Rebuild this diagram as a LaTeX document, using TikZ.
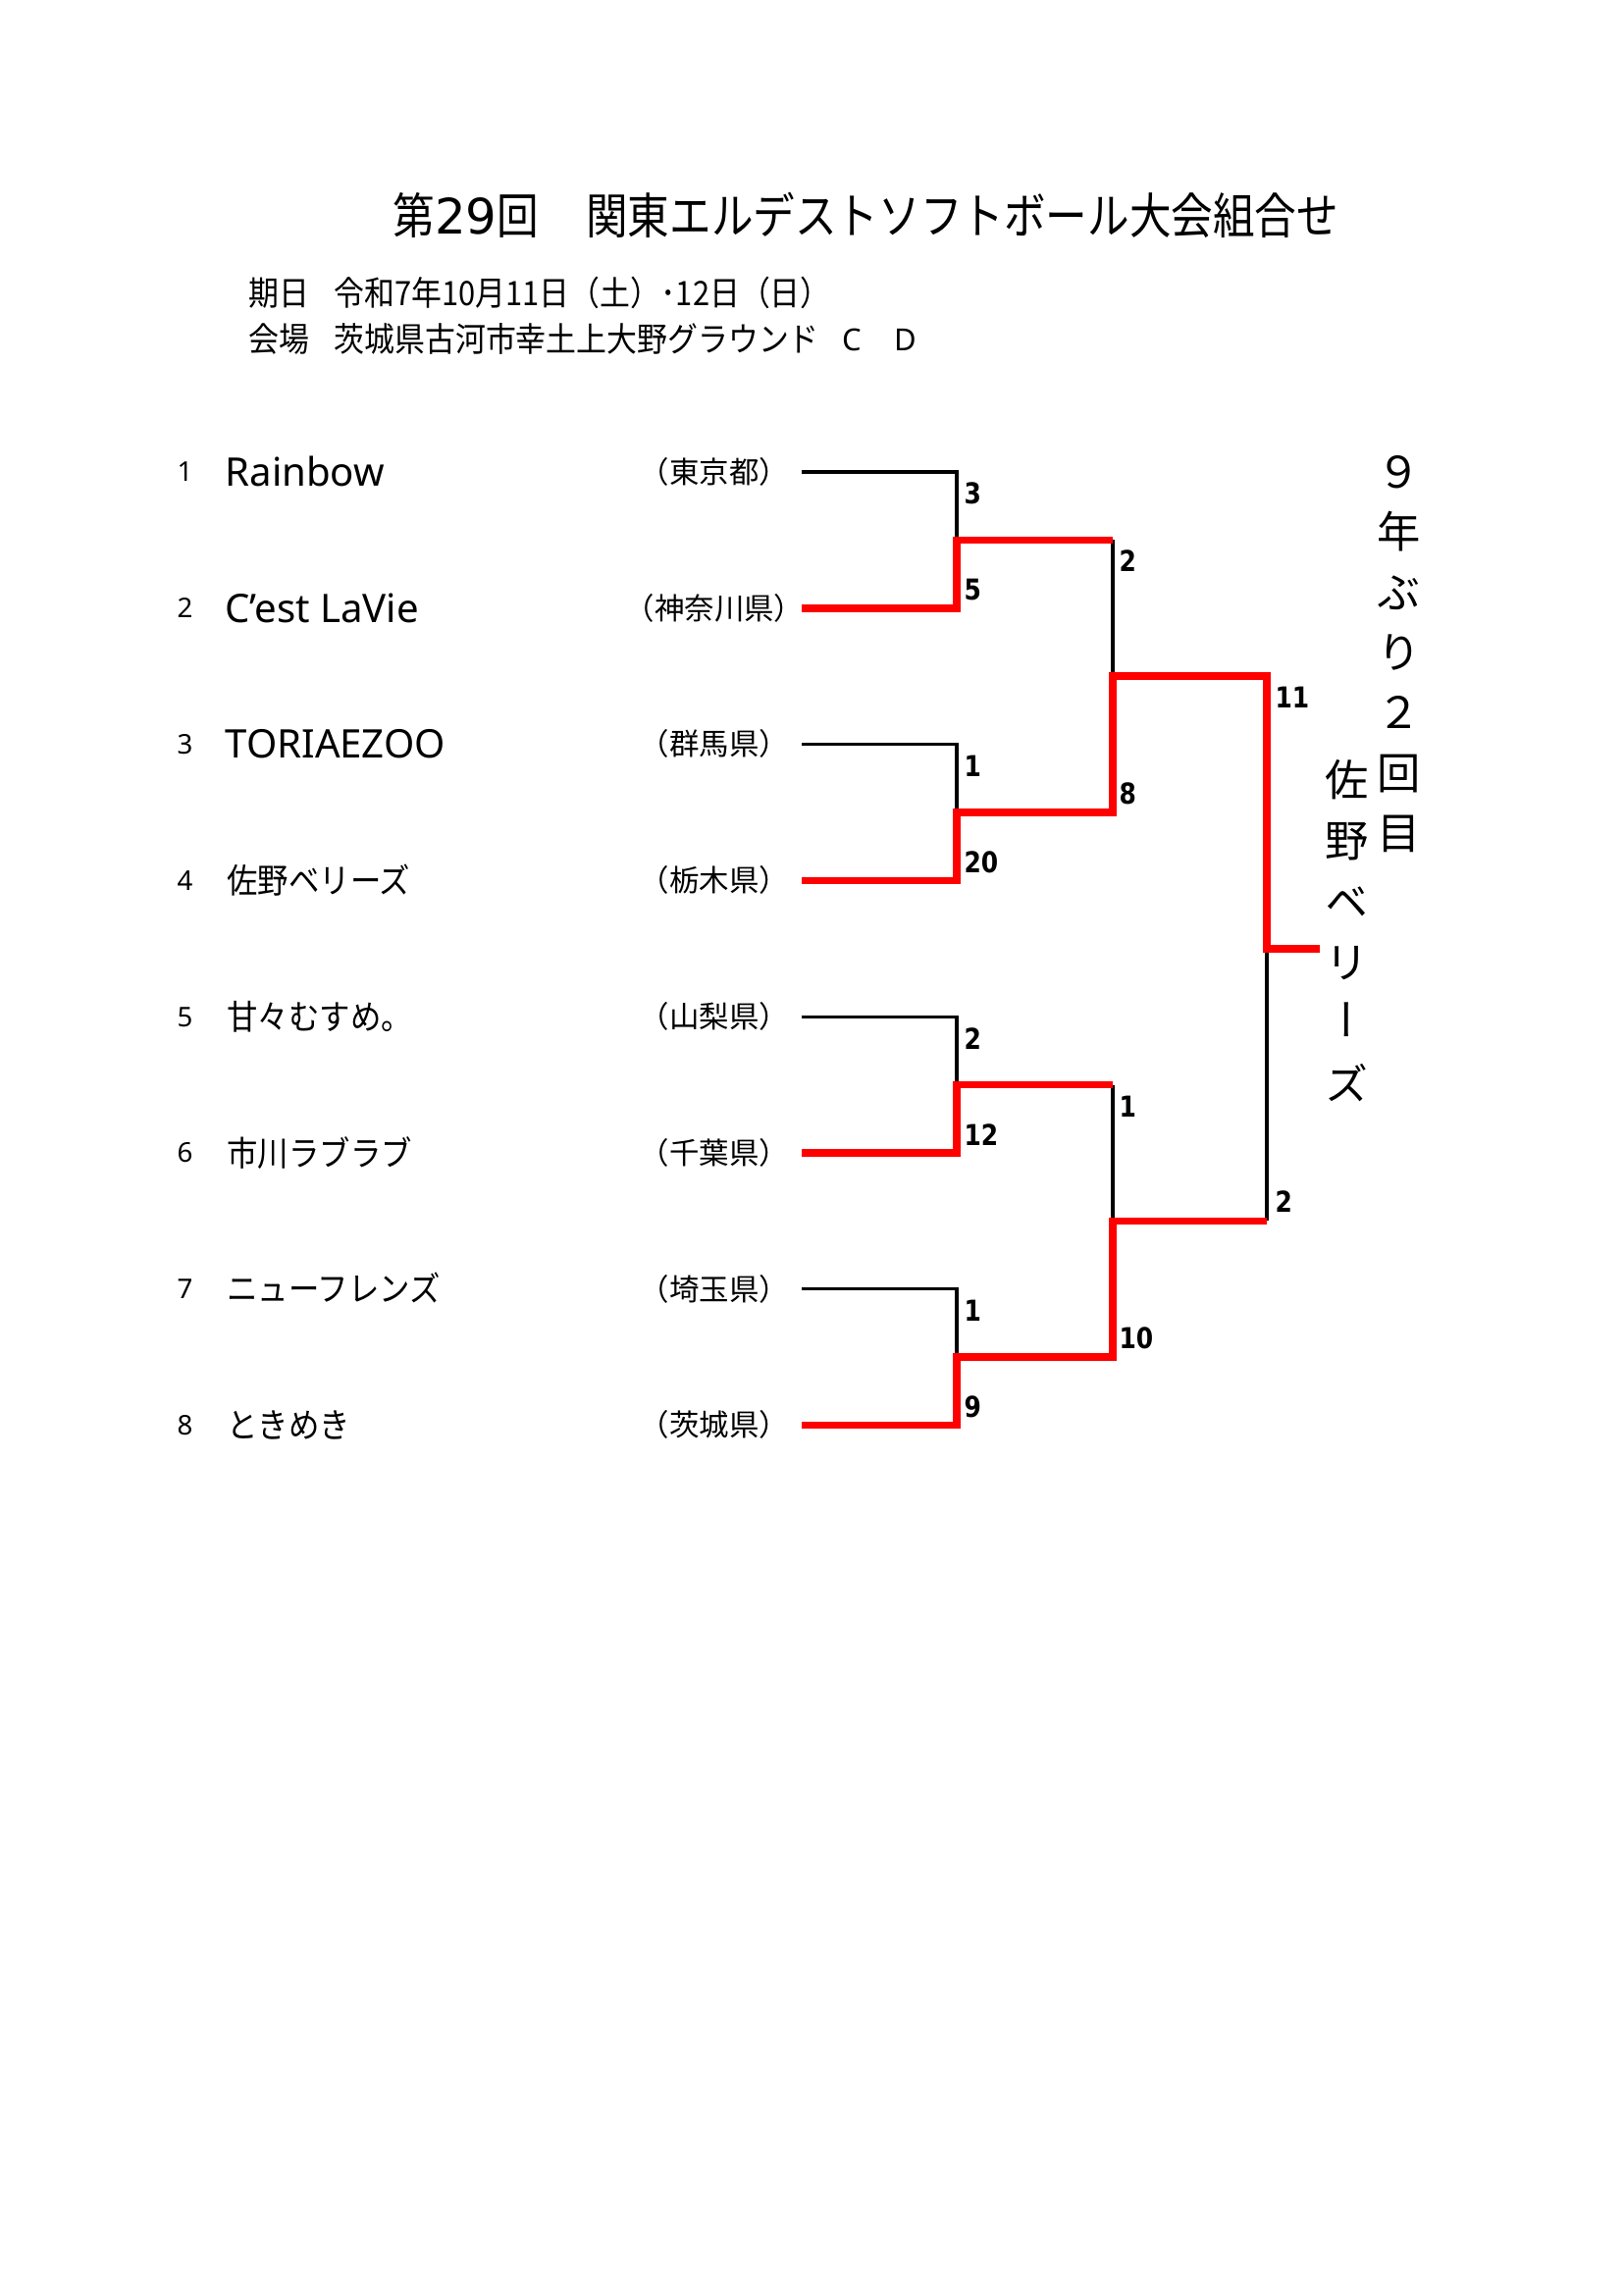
\documentclass[tikz,border=0pt]{standalone}
\usepackage{fontspec}
\setmainfont{Noto Sans}
\newfontfamily\jp{Noto Sans CJK JP}
\newfontfamily\jpn[FakeStretch=0.9]{Noto Sans CJK JP}
\newfontfamily\jpt[FakeStretch=0.855]{Noto Sans CJK JP}
\newfontfamily\jpv[RawFeature=+vert]{Noto Sans CJK JP}
\newfontfamily\lat{Noto Sans}
\newfontfamily\latd{DejaVu Sans}
\newfontfamily\latb[FakeStretch=0.85]{DejaVu Sans}
\newcommand\fsz[1]{\fontsize{#1}{#1}\selectfont}
\begin{document}
\begin{tikzpicture}[x=0.12697mm,y=-0.12697mm,
  blk/.style={line width=1.2pt, black, line join=miter},
  win/.style={line width=2.8pt, red, line join=miter},
  num/.style={anchor=base west, inner sep=0pt, font=\lat\fsz{10}},
  lname/.style={anchor=base west, inner sep=0pt, font=\lat\fsz{14.5}},
  jname/.style={anchor=base west, inner sep=0pt, font=\jpn\fsz{12.6}},
  pref/.style={anchor=base, inner sep=0pt, font=\jp\fsz{11}},
  score/.style={anchor=base west, inner sep=0pt, font=\latb\bfseries\fsz{10.6}},
  hdr/.style={anchor=base west, inner sep=0pt, font=\jpn\fsz{12.4}},
  vchar/.style={anchor=base, inner sep=0pt, font=\jpv\fsz{16}}]
\useasboundingbox (0,0) rectangle (1654,2339);
\fill[white] (0,0) rectangle (1654,2339);

% title and header
\node[anchor=base west, inner sep=0pt, font=\jpt\fsz{18}] (title) at (400,238.5) {第{\latd 29}回　\kern2pt関東エルデストソフトボール大会組合せ};
\node[hdr] (datelbl) at (253,311) {期日};
\node[hdr] (date) at (340,311) {令和7年10月11日（土）･12日（日）};
\node[hdr] (venuelbl) at (253,358) {会場};
\node[hdr] (venue) at (340,358) {茨城県古河市幸土上大野グラウンド};
\node[anchor=base, inner sep=0pt, font=\lat\fsz{11.2}] (courtC) at (868,357) {C};
\node[anchor=base, inner sep=0pt, font=\lat\fsz{11.2}] (courtD) at (923,357) {D};

% teams
\node[num] (n1) at (180,490.9) {1};
\node[num] (n2) at (180,629.7) {2};
\node[num] (n3) at (180,768.5) {3};
\node[num] (n4) at (180,907.3) {4};
\node[num] (n5) at (180,1046.1) {5};
\node[num] (n6) at (180,1184.9) {6};
\node[num] (n7) at (180,1323.7) {7};
\node[num] (n8) at (180,1462.5) {8};

\node[lname] (team1) at (229,495.3) {Rainbow};
\node[lname] (team2) at (229,634.1) {C’est LaVie};
\node[lname] (team3) at (229,772.9) {TORIAEZOO};
\node[jname] (team4) at (231,910.4) {佐野ベリーズ};
\node[jname] (team5) at (231,1049.2) {甘々むすめ。};
\node[jname] (team6) at (231,1188) {市川ラブラブ};
\node[jname] (team7) at (231,1326.8) {ニューフレンズ};
\node[jname] (team8) at (231,1465.6) {ときめき};

\node[pref] (pref1) at (728,492.3) {（東京都）};
\node[pref] (pref2) at (728,631.1) {（神奈川県）};
\node[pref] (pref3) at (728,769.9) {（群馬県）};
\node[pref] (pref4) at (728,908.7) {（栃木県）};
\node[pref] (pref5) at (728,1047.5) {（山梨県）};
\node[pref] (pref6) at (728,1186.3) {（千葉県）};
\node[pref] (pref7) at (728,1325.1) {（埼玉県）};
\node[pref] (pref8) at (728,1463.9) {（茨城県）};

% bracket coordinates
\coordinate (s1) at (817,481);    \coordinate (e1) at (975,481);
\coordinate (s2) at (817,619.8);  \coordinate (e2) at (975,619.8);
\coordinate (s3) at (817,758.6);  \coordinate (e3) at (975,758.6);
\coordinate (s4) at (817,897.4);  \coordinate (e4) at (975,897.4);
\coordinate (s5) at (817,1036.2); \coordinate (e5) at (975,1036.2);
\coordinate (s6) at (817,1175);   \coordinate (e6) at (975,1175);
\coordinate (s7) at (817,1313.8); \coordinate (e7) at (975,1313.8);
\coordinate (s8) at (817,1452.6); \coordinate (e8) at (975,1452.6);
\coordinate (m1) at (975,550.4);  \coordinate (k1) at (1134,550.4);
\coordinate (m2) at (975,828);    \coordinate (k2) at (1134,828);
\coordinate (m3) at (975,1105.6); \coordinate (k3) at (1134,1105.6);
\coordinate (m4) at (975,1383.2); \coordinate (k4) at (1134,1383.2);
\coordinate (p1) at (1134,689.2); \coordinate (q1) at (1291,689.2);
\coordinate (p2) at (1134,1244.4);\coordinate (q2) at (1291,1244.4);
\coordinate (f) at (1291,966.8);  \coordinate (w) at (1345,966.8);

% losers (black)
\draw[blk] (s1) -- (e1) -- (m1);
\draw[blk] (s3) -- (e3) -- (m2);
\draw[blk] (s5) -- (e5) -- (m3);
\draw[blk] (s7) -- (e7) -- (m4);
\draw[blk] (k1) -- (p1);
\draw[blk] (k3) -- (p2);
\draw[blk] (q2) -- (f);
% winners (red)
\draw[win] (s2) -- (e2) -- (m1) -- (k1);
\draw[win] (s4) -- (e4) -- (m2) -- (k2) -- (p1) -- (q1) -- (f) -- (w);
\draw[win] (s6) -- (e6) -- (m3) -- (k3);
\draw[win] (s8) -- (e8) -- (m4) -- (k4) -- (p2) -- (q2);

% scores
\node[score] (sc1) at (982,513.7) {3};
\node[score] (sc2) at (982,611.7) {5};
\node[score] (sc3) at (982,791.7) {1};
\node[score] (sc4) at (982,889.7) {20};
\node[score] (sc5) at (982,1069.3) {2};
\node[score] (sc6) at (982,1167.3) {12};
\node[score] (sc7) at (982,1346.9) {1};
\node[score] (sc8) at (982,1444.9) {9};
\node[score] (sc9) at (1140,582.7) {2};
\node[score] (sc10) at (1140,819.7) {8};
\node[score] (sc11) at (1140,1138.3) {1};
\node[score] (sc12) at (1140,1374.3) {10};
\node[score] (sc13) at (1299,721.9) {11};
\node[score] (sc14) at (1299,1235.4) {2};

% vertical texts
\node[vchar] (va1) at (1426,497.4) {９};
\node[vchar] (va2) at (1426,558.4) {年};
\node[vchar] (va3) at (1426,620.4) {ぶ};
\node[vchar] (va4) at (1426,681.4) {り};
\node[vchar] (va5) at (1426,742.4) {２};
\node[vchar] (va6) at (1426,804.4) {回};
\node[vchar] (va7) at (1426,865.4) {目};
\node[vchar] (vb1) at (1373,811.4) {佐};
\node[vchar] (vb2) at (1373,873.4) {野};
\node[vchar] (vb3) at (1373,935.4) {ベ};
\node[vchar] (vb4) at (1373,997.4) {リ};
\node[vchar] (vb5) at (1373,1056.4) {ー};
\node[vchar] (vb6) at (1373,1121.4) {ズ};
\end{tikzpicture}
\end{document}
